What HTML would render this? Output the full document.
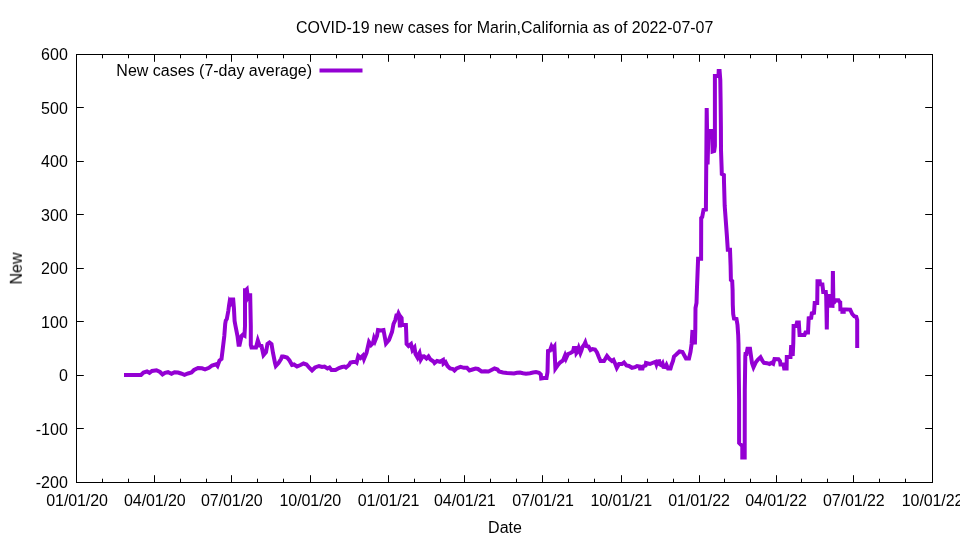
<!DOCTYPE html><html><head><meta charset="utf-8"><title>COVID-19 new cases for Marin,California</title><style>html,body{margin:0;padding:0;background:#fff}svg{display:block}</style></head><body><svg width="960" height="540" viewBox="0 0 960 540">
<rect width="960" height="540" fill="#fff"/>
<path d="M76.5 482.5V475.2M76.5 54.5V61.8M154.5 482.5V475.2M154.5 54.5V61.8M231.5 482.5V475.2M231.5 54.5V61.8M310.5 482.5V475.2M310.5 54.5V61.8M388.5 482.5V475.2M388.5 54.5V61.8M464.5 482.5V475.2M464.5 54.5V61.8M542.5 482.5V475.2M542.5 54.5V61.8M621.5 482.5V475.2M621.5 54.5V61.8M699.5 482.5V475.2M699.5 54.5V61.8M776.5 482.5V475.2M776.5 54.5V61.8M853.5 482.5V475.2M853.5 54.5V61.8M932.5 482.5V475.2M932.5 54.5V61.8M102.5 482.5V478.7M102.5 54.5V58.3M128.5 482.5V478.7M128.5 54.5V58.3M180.5 482.5V478.7M180.5 54.5V58.3M206.5 482.5V478.7M206.5 54.5V58.3M257.5 482.5V478.7M257.5 54.5V58.3M283.5 482.5V478.7M283.5 54.5V58.3M336.5 482.5V478.7M336.5 54.5V58.3M362.5 482.5V478.7M362.5 54.5V58.3M414.5 482.5V478.7M414.5 54.5V58.3M440.5 482.5V478.7M440.5 54.5V58.3M490.5 482.5V478.7M490.5 54.5V58.3M516.5 482.5V478.7M516.5 54.5V58.3M568.5 482.5V478.7M568.5 54.5V58.3M594.5 482.5V478.7M594.5 54.5V58.3M647.5 482.5V478.7M647.5 54.5V58.3M673.5 482.5V478.7M673.5 54.5V58.3M724.5 482.5V478.7M724.5 54.5V58.3M750.5 482.5V478.7M750.5 54.5V58.3M801.5 482.5V478.7M801.5 54.5V58.3M827.5 482.5V478.7M827.5 54.5V58.3M879.5 482.5V478.7M879.5 54.5V58.3M905.5 482.5V478.7M905.5 54.5V58.3M76.5 54.5H83.8M932.5 54.5H925.2M76.5 107.5H83.8M932.5 107.5H925.2M76.5 161.5H83.8M932.5 161.5H925.2M76.5 214.5H83.8M932.5 214.5H925.2M76.5 268.5H83.8M932.5 268.5H925.2M76.5 321.5H83.8M932.5 321.5H925.2M76.5 375.5H83.8M932.5 375.5H925.2M76.5 428.5H83.8M932.5 428.5H925.2M76.5 482.5H83.8M932.5 482.5H925.2" stroke="#000" stroke-width="1" fill="none"/>
<rect x="76.5" y="54.5" width="856.0" height="428.0" fill="none" stroke="#000" stroke-width="1"/>
<g opacity="0.999" font-family="'Liberation Sans', Arial, sans-serif" font-size="16" fill="#000">
<text x="77.1" y="506" text-anchor="middle" textLength="61.7">01/01/20</text>
<text x="154.9" y="506" text-anchor="middle" textLength="61.7">04/01/20</text>
<text x="231.9" y="506" text-anchor="middle" textLength="61.7">07/01/20</text>
<text x="310.4" y="506" text-anchor="middle" textLength="61.7">10/01/20</text>
<text x="388.6" y="506" text-anchor="middle" textLength="61.7">01/01/21</text>
<text x="464.9" y="506" text-anchor="middle" textLength="61.7">04/01/21</text>
<text x="543.1" y="506" text-anchor="middle" textLength="61.7">07/01/21</text>
<text x="621.3" y="506" text-anchor="middle" textLength="61.7">10/01/21</text>
<text x="699.1" y="506" text-anchor="middle" textLength="61.7">01/01/22</text>
<text x="776.1" y="506" text-anchor="middle" textLength="61.7">04/01/22</text>
<text x="853.9" y="506" text-anchor="middle" textLength="61.7">07/01/22</text>
<text x="932.6" y="506" text-anchor="middle" textLength="61.7">10/01/22</text>
<text x="67.8" y="60.2" text-anchor="end">600</text>
<text x="67.8" y="114.2" text-anchor="end">500</text>
<text x="67.8" y="167.2" text-anchor="end">400</text>
<text x="67.8" y="221.2" text-anchor="end">300</text>
<text x="67.8" y="274.2" text-anchor="end">200</text>
<text x="67.8" y="328.2" text-anchor="end">100</text>
<text x="67.8" y="381.2" text-anchor="end">0</text>
<text x="67.8" y="435.2" text-anchor="end">-100</text>
<text x="67.8" y="488.2" text-anchor="end">-200</text>
<text x="504.7" y="33" text-anchor="middle" font-size="15.94">COVID-19 new cases for Marin,California as of 2022-07-07</text>
<text x="505" y="532.8" text-anchor="middle">Date</text>
<text transform="translate(21.8,268.5) rotate(-90)" text-anchor="middle">New</text>
<text x="312" y="76" text-anchor="end">New cases (7-day average)</text>
</g>
<path d="M319.5 70.4H362.5" stroke="#9400d3" stroke-width="4" fill="none"/>
<g stroke="#9400d3" stroke-width="4" fill="none" stroke-linejoin="miter" stroke-miterlimit="10" stroke-linecap="butt">
<path d="M124 375.1L141 375L143.5 372.5L147 371.5L149.5 372.8L152 371L156.5 370.3L160 372L162.5 374.5L165 372.8L168 372.2L171.5 373.8L174.5 372.2L178 372.5L181 373.5L184.5 374.8L188 373.5L191.5 372.5L194 370L198 368L202 368.3L205 369.3L209 367.8L212 365.5L216 364.3L217.5 366L219.5 360.5L221.5 359L222.5 351L224.3 336L225.2 324L225.8 320.5L226.8 319L228.3 311L229.1 305L229.7 301.3L230.5 302.5L231.4 299.5L233.2 299.5L233.9 308L234.6 321L235.5 326L237.5 336L238.6 344.8L239.6 344.8L241.5 336L243 334.5L244.5 335.5L245 326L245 290.3L245.7 290.3L246.8 289.2L247.8 297.3L248.9 295.3L250.2 295.3L250.8 326L250.8 345L251.5 347.5L256 347.5L257.8 340.5L259.5 345.5L261.5 346L263.5 355L266 352L267.5 344L269.5 342.5L271.5 344L273 353L275 363L275.8 366L278.5 363L281 359L282 356.5L283.5 356.5L287 357.5L289.5 360.5L292 365L294 364.5L297 366.5L300.5 365L303.5 363.5L306.5 364.5L309.5 368L312 370.5L315 367.5L319 366L322 367L324.5 366.5L327.5 368.5L329.5 367.5L331.5 370L335.5 370L339 368L342 367L344.5 366.5L346 367.5L349 365L350.5 362.5L353 362L355.8 362L356.6 362.6L358.3 356L360.5 358L363 355.5L364 359L366.5 353L369 342L371 345L373 343L374 338.5L375 341L377 336L378 330L381 330.5L383.5 330L386 343.5L389 340L392 332L393.5 324L395.3 320L396.4 315.6L397.7 315.6L398.5 313.4L399.4 315.2L399.9 327.5L400.4 316.5L401.6 318L401.9 325L405.9 325L406.2 332L406.6 344L408.5 346L411 344L412.5 350L414.5 347.5L415.5 354L417.5 357.5L418.6 354.6L419.5 353L420.8 359.5L421.7 358L422.5 356.3L424 356.2L426.5 358.5L428.5 356.5L430.5 359.5L433.5 361.5L434.5 363L437 361L440 361.8L443 360L443.5 363.5L445.5 362L447.5 366L450 368.5L453 369L454.5 370.5L456.5 368.5L460.5 366.8L464 367.8L467 367.8L469.5 370.5L472.5 369.5L475.5 368.5L478 369L481.5 371.5L485 371.2L488.5 371.5L491.5 370L494.5 368.5L497.5 369.5L499 371.5L503 372.5L507 373L511 373.2L514 373.5L517 372.8L520 372.5L523 373.2L526 373.7L530 373.2L533 372.5L536 372L539 372.8L540.8 374.5L541.2 378.5L544 378L546.5 378L547.5 372L548 351L550 350.5L551.5 346.3L552.8 348.5L554.4 346.5L555 360L555.4 368.5L557.5 365.5L560 362.5L563 360.5L565 355.5L566 358.5L568 354L570.5 353L573 351.5L573.8 348L575.8 348L576.4 353L577.5 351.5L578.7 348L580.4 353L581.4 350.5L582.5 347L584 345L585.3 342.3L586.5 346L588.5 346.5L590.5 350L592.5 349L595 349.5L597 352.5L599 357.5L600.5 361L604 361L607 356L609.5 359L612 361L613.5 360L615.5 364.5L616.8 367.8L619 364L622 364L624 362.5L626.5 365.5L629 366L632 367.8L635 367.2L637 366L639.5 366.5L640 368.5L642.5 368.5L643 366.5L645.5 365.5L646 363L648 363.5L650 364L653.5 362.5L655.5 361.8L656.4 364.3L657.3 361.5L659.2 361.2L659.9 364.5L661.5 365.3L662.6 363.5L663.5 366.8L665.5 367L666.5 365L668 368.5L670.5 368.5L671.5 365L673 361L674 356.5L676 354.8L679.5 351.5L682.5 352L686 358.5L689 358.5L690.5 352L691.6 344L692.5 330M692.5 330L694.9 344.5M694.9 344.5L695.3 330L695.5 308L696.5 303L696.9 290L698.1 258.8L701.1 258.8L701.2 218L702.2 217L703.5 210L705.9 209.5L706.7 108L707.6 164.5L708.4 133L709.3 131L712.1 131L712.6 151.5L714.2 151L714.9 146L714.9 76L718.5 76L718.7 71L719.6 71L720.3 80L720.6 100L720.9 127L721 150L721.6 167L721.8 174L723.9 175L724 182L724.7 206L726.9 236L727.8 249.8L730 249.8L730.6 266L730.9 280L732.2 281L732.6 290L732.8 305L733.2 314L734 318.5L736.5 319L737.5 325L738.2 335L738.5 344L739.1 400L739.1 443L742.3 446L742.3 457.5L744.7 457.5L744.8 390L745.3 356L745.5 354L746.5 354L747.5 348.8L750 348.8L751 356L752 363L753.5 367.3L756 362L758 359.5L760.5 357.2L762.5 361L764 362.8L767 363.2L769.5 364L771.5 362.8L773.2 363.8L774.5 359L778.5 359.2L780 361L780.5 364.5L783.5 364.5L784.2 368.5L786.6 368.5L786.8 357L790.5 357L791.2 345L792.7 356L793.3 343L793.6 326L796.2 326L797 322.5L798.8 322.5L799.6 335L804.5 335L805.5 332.5L808 332.5L808.7 318.2L811.2 317.8L811.8 313.3L814 312.8L814.7 303L817.2 303L817.5 281.2L819.7 281.2L820.1 284.2L822.4 284.3L822.8 288L823.2 292L825.8 292L826.2 296L826.8 329.5L827.3 296L829.3 296L829.7 305.6L832.5 305.8L832.9 271L833.4 303.3M833.4 303.3L834.5 302L836 300.3L838.5 300.3L839.5 302L840.2 302.3L840.4 309.3L850.2 309.6L852.2 314L854.3 316.3L856.3 316.8L857.2 320L857.2 348"/>
<path d="M840.4 311.8L845.7 311.8"/>
</g>
</svg></body></html>
